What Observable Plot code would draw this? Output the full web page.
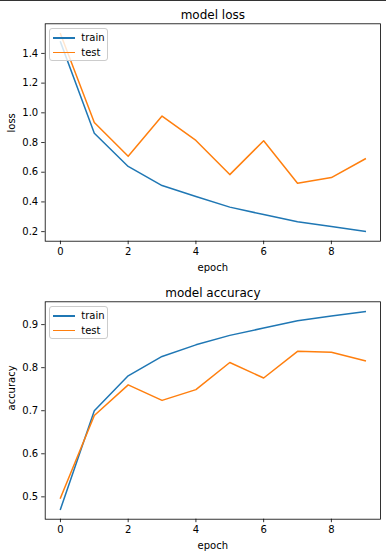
<!DOCTYPE html>
<html>
<head>
<meta charset="utf-8">
<script src="https://cdn.jsdelivr.net/npm/d3@7"></script>
<script src="https://cdn.jsdelivr.net/npm/@observablehq/plot@0.6"></script>
<style>
  html, body { margin: 0; padding: 0; background: #fff; }
  #wrap { position: relative; width: 386px; height: 557px; font-family: "DejaVu Sans", sans-serif; }
  #topline { position: absolute; left: 0; top: 0; width: 386px; height: 1px; background: #333; z-index: 5; }
  .panel { position: absolute; left: 0; }
  .legend { position: absolute; background: rgba(255,255,255,0.8); border: 1px solid #ccc; border-radius: 3px;
            box-sizing: border-box; width: 59px; height: 33px; font-size: 10px; color: #000; }
  .legend .row { position: absolute; left: 0; height: 14px; }
  .legend .sw { position: absolute; left: 3px; width: 22px; height: 1.5px; top: 6px; }
  .legend .lb { position: absolute; left: 31px; top: 0; line-height: 14px; white-space: nowrap; }
</style>
</head>
<body>
<div id="wrap"><div id="topline"></div></div>
<script>
const epochs = [0, 1, 2, 3, 4, 5, 6, 7, 8, 9];
const lossTrain = [1.478, 0.862, 0.639, 0.510, 0.436, 0.365, 0.315, 0.266, 0.234, 0.202];
const lossTest  = [1.533, 0.935, 0.707, 0.978, 0.814, 0.584, 0.812, 0.526, 0.564, 0.690];
const accTrain  = [0.471, 0.700, 0.781, 0.826, 0.853, 0.875, 0.892, 0.909, 0.920, 0.930];
const accTest   = [0.497, 0.689, 0.760, 0.724, 0.749, 0.812, 0.776, 0.838, 0.836, 0.816];
const seriesNames = ["train", "test"];
const seriesColors = ["#1f77b4", "#ff7f0e"];
const xTicks = [0, 2, 4, 6, 8];
const lossTicks = [0.2, 0.4, 0.6, 0.8, 1.0, 1.2, 1.4];
const accTicks = [0.5, 0.6, 0.7, 0.8, 0.9];

function padded(ext) {
  const m = (ext[1] - ext[0]) * 0.05;
  return [ext[0] - m, ext[1] + m];
}

function panel(title, ylabel, train, test, yTicks, top, h, mb) {
  const rows = [];
  epochs.forEach((e, i) => rows.push({epoch: e, value: train[i], series: seriesNames[0]}));
  epochs.forEach((e, i) => rows.push({epoch: e, value: test[i], series: seriesNames[1]}));
  const yDomain = padded(d3.extent(train.concat(test)));
  const chart = Plot.plot({
    width: 386,
    height: h,
    marginTop: 23.3,
    marginBottom: mb,
    marginLeft: 44.7,
    marginRight: 6,
    style: {fontFamily: "DejaVu Sans, sans-serif", fontSize: "10px", color: "#000", background: "#fff"},
    x: {domain: padded([0, 9])},
    y: {domain: yDomain},
    marks: [
      Plot.line(rows, {x: "epoch", y: "value", z: "series", stroke: "series", strokeWidth: 1.5,
                       strokeLinejoin: "round", strokeLinecap: "square"}),
      Plot.frame({stroke: "#000", strokeWidth: 0.8}),
      Plot.axisX({ticks: xTicks, tickSize: 3.5, tickPadding: 3.5, tickFormat: d => String(d),
                  label: null, fontSize: 10, strokeWidth: 0.8}),
      Plot.axisY({ticks: yTicks, tickSize: 3.5, tickPadding: 3.5, tickFormat: d3.format(".1f"),
                  label: null, fontSize: 10, strokeWidth: 0.8}),
      Plot.text([title], {frameAnchor: "top", text: d => d, dy: -5, lineAnchor: "bottom", fontSize: 12}),
      Plot.text(["epoch"], {frameAnchor: "bottom", text: d => d, dy: 27, lineAnchor: "middle", fontSize: 10}),
      Plot.text([ylabel], {frameAnchor: "left", text: d => d, dx: -33, rotate: -90, lineAnchor: "middle", fontSize: 10})
    ],
    color: {domain: seriesNames, range: seriesColors}
  });
  const div = document.createElement("div");
  div.className = "panel";
  div.style.top = top + "px";
  div.appendChild(chart);
  const lg = document.createElement("div");
  lg.className = "legend";
  lg.style.left = "49.3px";
  lg.style.top = (23.3 + 5) + "px";
  seriesNames.forEach((n, i) => {
    const r = document.createElement("div");
    r.className = "row";
    r.style.top = (2 + i * 14.7) + "px";
    r.innerHTML = `<div class="sw" style="background:${seriesColors[i]}"></div><div class="lb">${n}</div>`;
    lg.appendChild(r);
  });
  div.appendChild(lg);
  document.getElementById("wrap").appendChild(div);
}

panel("model loss", "loss", lossTrain, lossTest, lossTicks, 0, 278, 37.3);
panel("model accuracy", "accuracy", accTrain, accTest, accTicks, 278, 279, 38.3);
</script>
</body>
</html>
